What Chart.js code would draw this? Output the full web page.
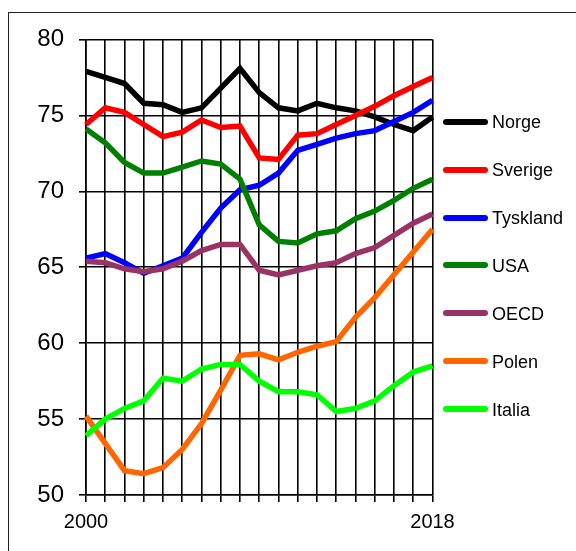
<!DOCTYPE html>
<html>
<head>
<meta charset="utf-8">
<script src="https://cdn.jsdelivr.net/npm/chart.js@4"></script>
<style>
  html, body { margin: 0; padding: 0; background: #fff; }
  body { width: 576px; height: 551px; position: relative; overflow: hidden; font-family: "Liberation Sans", Arial, sans-serif; }
  #frame { position: absolute; left: 8px; top: 12px; width: 620px; height: 620px; border: 1.5px solid #222; box-sizing: border-box; }
  #wrap { position: absolute; left: 0; top: 0; width: 576px; height: 551px; }
  .lg-line { position: absolute; height: 6px; border-radius: 3px; }
  .lg-text { position: absolute; font-size: 18px; line-height: 18px; color: #000; }
</style>
</head>
<body>
<div id="frame"></div>
<div id="wrap"><canvas id="c" width="576" height="551"></canvas></div>
<div id="legend"></div>
<script>
const years = ["2000","2001","2002","2003","2004","2005","2006","2007","2008","2009","2010","2011","2012","2013","2014","2015","2016","2017","2018"];
const seriesNames = ["Norge","Sverige","Tyskland","USA","OECD","Polen","Italia"];
const seriesColors = ["#000000","#ff0000","#0000ff","#008000","#993366","#ff6600","#00ff00"];
const norge    = [77.9,77.5,77.1,75.8,75.7,75.2,75.5,76.8,78.1,76.5,75.5,75.3,75.8,75.5,75.3,74.9,74.4,74.0,74.9];
const sverige  = [74.4,75.5,75.2,74.4,73.6,73.9,74.7,74.2,74.3,72.2,72.1,73.7,73.8,74.4,75.0,75.6,76.3,76.9,77.5];
const tyskland = [65.6,65.9,65.3,64.6,65.1,65.6,67.3,68.9,70.1,70.4,71.2,72.7,73.1,73.5,73.8,74.0,74.6,75.2,76.0];
const usa      = [74.1,73.2,71.9,71.2,71.2,71.6,72.0,71.8,70.8,67.8,66.7,66.6,67.2,67.4,68.2,68.7,69.4,70.2,70.8];
const oecd     = [65.4,65.3,64.9,64.7,64.9,65.4,66.1,66.5,66.5,64.8,64.5,64.8,65.1,65.3,65.9,66.3,67.1,67.9,68.5];
const polen    = [55.2,53.4,51.6,51.4,51.8,53.0,54.7,56.9,59.2,59.3,58.9,59.4,59.8,60.1,61.7,63.0,64.5,66.0,67.5];
const italia   = [53.9,55.0,55.7,56.2,57.7,57.5,58.3,58.6,58.6,57.5,56.8,56.8,56.6,55.5,55.7,56.2,57.2,58.1,58.5];
const seriesValues = [norge, sverige, tyskland, usa, oecd, polen, italia];
const yTicks = [50,55,60,65,70,75,80];

const FONT = "'Liberation Sans', Arial, sans-serif";

const datasets = seriesNames.map((name, i) => ({
  label: name,
  data: seriesValues[i],
  borderColor: seriesColors[i],
  backgroundColor: seriesColors[i],
  borderWidth: 5.5,
  pointRadius: 0,
  tension: 0,
  fill: false,
  order: -i
}));

new Chart(document.getElementById('c'), {
  type: 'line',
  data: { labels: years, datasets },
  options: {
    responsive: false,
    animation: false,
    events: [],
    layout: { padding: { left: 0, right: 143.5, top: 39.5, bottom: 0 } },
    plugins: { legend: { display: false }, tooltip: { enabled: false } },
    scales: {
      x: {
        type: 'category',
        offset: false,
        grid: { color: '#000', lineWidth: 1.6, tickLength: 7, drawTicks: true },
        border: { color: '#000', width: 1.6 },
        ticks: {
          autoSkip: false, maxRotation: 0, minRotation: 0,
          color: '#000', font: { family: FONT, size: 20 }, padding: 8,
          callback: function(v, i) { return (i === 0 || i === years.length - 1) ? years[i] : ''; }
        },
        afterFit: function(s) { s.height = 56; }
      },
      y: {
        min: 50, max: 80,
        grid: { color: '#000', lineWidth: 1.6, tickLength: 7 },
        border: { color: '#000', width: 1.6 },
        afterBuildTicks: function(s) { s.ticks = yTicks.map(v => ({ value: v })); },
        ticks: { color: '#000', font: { family: FONT, size: 24 }, padding: 15 },
        afterFit: function(s) { s.width = 86; }
      }
    }
  }
});

const legend = document.getElementById('legend');
seriesNames.forEach((name, i) => {
  const cy = 121.7 + i * 47.9;
  const l = document.createElement('div');
  l.className = 'lg-line';
  l.style.left = '443px'; l.style.width = '45px';
  l.style.top = (cy - 3) + 'px';
  l.style.background = seriesColors[i];
  legend.appendChild(l);
  const t = document.createElement('div');
  t.className = 'lg-text';
  t.style.left = '492px';
  t.style.top = (cy - 8.5) + 'px';
  t.textContent = name;
  legend.appendChild(t);
});
</script>
</body>
</html>
